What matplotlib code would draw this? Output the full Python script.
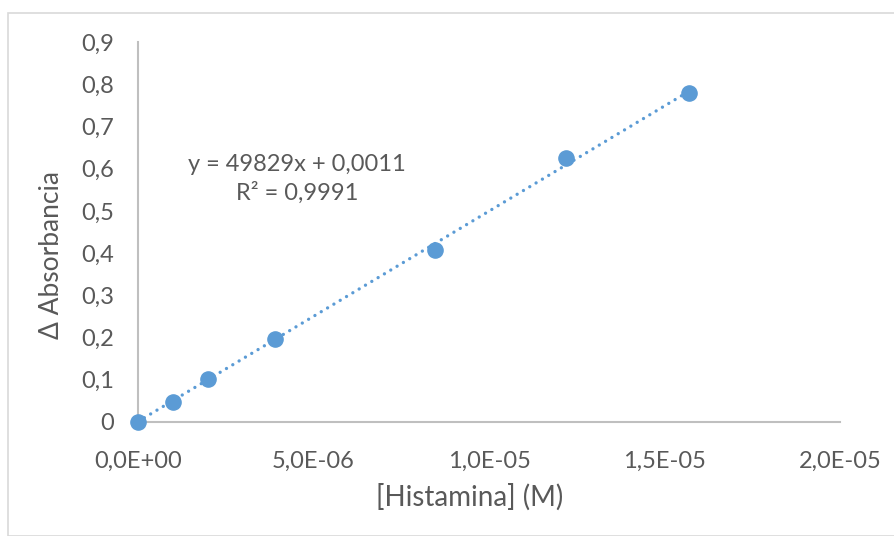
import matplotlib
matplotlib.use("Agg")
import matplotlib.pyplot as plt
from matplotlib.patches import Rectangle
import numpy as np

conc = [0.0, 1.0e-6, 2.0e-6, 3.9e-6, 8.45e-6, 12.2e-6, 15.7e-6]
absorb = [0.0, 0.047, 0.102, 0.197, 0.408, 0.625, 0.779]
slope = 49829
intercept = 0.0011
eq_text = "y = 49829x + 0,0011\nR² = 0,9991"
xticks = [0, 5e-6, 1e-5, 1.5e-5, 2e-5]
xticklabels = ["0,0E+00", "5,0E-06", "1,0E-05", "1,5E-05", "2,0E-05"]
yticks = [0, 0.1, 0.2, 0.3, 0.4, 0.5, 0.6, 0.7, 0.8, 0.9]
yticklabels = ["0", "0,1", "0,2", "0,3", "0,4", "0,5", "0,6", "0,7", "0,8", "0,9"]

plt.rcParams['font.family'] = ['Lato', 'DejaVu Sans']
W, H = 894, 536
fig = plt.figure(figsize=(W/100, H/100), dpi=100)
fig.patches.append(Rectangle((7.5/W, 0), 1, 1 - 12.5/H, transform=fig.transFigure,
                             fill=False, edgecolor='#D9D9D9', linewidth=1.2))
ax = fig.add_axes([138/W, 1-422/H, (840-138)/W, (422-42)/H])
blue = '#5B9BD5'
grey = '#595959'

xs = np.array([min(conc), max(conc)])
ax.plot(xs, slope*xs + intercept, linestyle=(0, (0.01, 2.2)), color=blue, linewidth=2.4,
        dash_capstyle='round', zorder=2)
ax.scatter(conc, absorb, s=120, color=blue, zorder=3, clip_on=False)

ax.set_xlim(0, 2e-5)
ax.set_ylim(0, 0.9)
ax.set_xticks(xticks)
ax.set_xticklabels(xticklabels)
ax.set_yticks(yticks)
ax.set_yticklabels(yticklabels)
ax.tick_params(length=0, labelsize=17, labelcolor=grey)
ax.tick_params(axis='y', pad=17)
ax.tick_params(axis='x', pad=21)
for s in ['top', 'right']:
    ax.spines[s].set_visible(False)
for s in ['left', 'bottom']:
    ax.spines[s].set_color('#BFBFBF')
    ax.spines[s].set_linewidth(1.5)

fig.text(52/W, 1-255/H, "Δ Absorbancia", rotation=90, ha='center', va='center',
         fontsize=19, color=grey)
fig.text(470/W, 1-497/H, "[Histamina] (M)", ha='center', va='center',
         fontsize=20, color=grey)
fig.text(297/W, 1-179/H, eq_text, ha='center', va='center', fontsize=17,
         color=grey, linespacing=1.4)

fig.savefig("out.png", dpi=100)
